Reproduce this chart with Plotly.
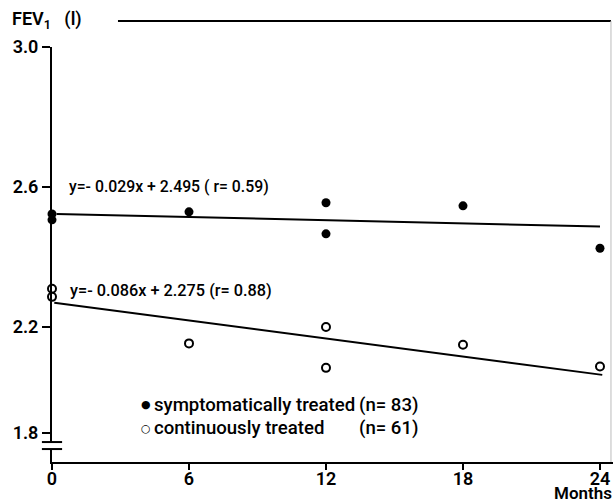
import plotly.graph_objects as go

# ---- data ----
sym_months = [0, 0, 6, 12, 12, 18, 24]
sym_fev = [2.523, 2.506, 2.529, 2.555, 2.466, 2.546, 2.425]

cont_months = [0, 0, 6, 12, 12, 18, 24]
cont_fev = [2.309, 2.286, 2.153, 2.200, 2.083, 2.149, 2.087]

sym_fit_x = [0.2, 24]
sym_fit_y = [2.523, 2.487]
cont_fit_x = [0.1, 24.1]
cont_fit_y = [2.269, 2.063]

x_ticks = [0, 6, 12, 18, 24]
y_tick_labels = ["1.8", "2.2", "2.6", "3.0"]
y_tick_values = [1.897, 2.2, 2.6, 3.0]  # 1.8 sits just above the axis break

sym_label = "symptomatically treated"
cont_label = "continuously treated"
sym_n = "(n= 83)"
cont_n = "(n= 61)"
sym_eq = "y=- 0.029x + 2.495 ( r= 0.59)"
cont_eq = "y=- 0.086x + 2.275 (r= 0.88)"

FONT = "Roboto, DejaVu Sans, sans-serif"
W = 500

fig = go.Figure()

fig.add_trace(go.Scatter(x=sym_fit_x, y=sym_fit_y, mode="lines",
                         line=dict(color="black", width=2), showlegend=False, hoverinfo="skip"))
fig.add_trace(go.Scatter(x=cont_fit_x, y=cont_fit_y, mode="lines",
                         line=dict(color="black", width=2), showlegend=False, hoverinfo="skip"))
fig.add_trace(go.Scatter(x=sym_months, y=sym_fev, mode="markers", name=sym_label,
                         marker=dict(symbol="circle", size=9, color="black"), showlegend=False, cliponaxis=False))
fig.add_trace(go.Scatter(x=cont_months, y=cont_fev, mode="markers", name=cont_label,
                         marker=dict(symbol="circle", size=8, color="white",
                                     line=dict(color="black", width=2)), showlegend=False, cliponaxis=False))

y_min = 1.814
y_max = 3.0
x_max = 24.57

fig.update_layout(
    width=614, height=501,
    margin=dict(l=52, r=1, t=47, b=39, autoexpand=False),
    paper_bgcolor="white", plot_bgcolor="white",
    font=dict(family=FONT, color="black", size=15, weight=W),
    xaxis=dict(range=[0, x_max], tickvals=x_ticks, ticktext=[str(v) for v in x_ticks],
               showgrid=False, zeroline=False, showline=True, linecolor="black", linewidth=2,
               ticks="outside", ticklen=6, tickwidth=1.5, tickcolor="black", automargin=False,
               ticklabelstandoff=-7,
               tickfont=dict(size=18, family=FONT, weight=600)),
    yaxis=dict(range=[y_min, y_max], tickvals=y_tick_values, ticktext=y_tick_labels,
               showgrid=False, zeroline=False, showline=True, linecolor="black", linewidth=2,
               ticks="outside", ticklen=8, tickwidth=1.5, tickcolor="black", automargin=False,
               tickfont=dict(size=18, family=FONT, weight=600)),
)

# axis break: gap in y axis with two short bars
fig.add_shape(type="rect", xref="paper", yref="y", x0=-0.02, x1=0.02, y0=1.851, y1=1.871,
              fillcolor="white", line=dict(width=0), layer="above")
for yb in (1.851, 1.871):
    fig.add_shape(type="line", xref="paper", yref="y", x0=-0.018, x1=0.018, y0=yb, y1=yb,
                  line=dict(color="black", width=2), layer="above")

# frame lines at top and right
fig.add_shape(type="line", xref="paper", yref="paper", x0=0.1176, x1=0.9964, y0=1.0627, y1=1.0627,
              line=dict(color="black", width=2))
fig.add_shape(type="line", xref="paper", yref="paper", x0=0.9964, x1=0.9964, y0=0, y1=1.0627,
              line=dict(color="#bbbbbb", width=1))

# y-axis title
fig.add_annotation(text="FEV<sub>1</sub>   (l)", xref="paper", yref="paper", x=-0.0749, y=1.065,
                   xanchor="left", yanchor="middle", showarrow=False, font=dict(size=18, family=FONT, weight=600))
# x-axis title
fig.add_annotation(text="Months", xref="paper", yref="paper", x=1.0018, y=-0.074,
                   xanchor="right", yanchor="middle", showarrow=False, font=dict(size=17, family=FONT, weight=600))

# regression equations
fig.add_annotation(text=sym_eq, x=0.66, y=2.6, xanchor="left", yanchor="middle",
                   showarrow=False, font=dict(size=15.8, family=FONT, weight=500))
fig.add_annotation(text=cont_eq, x=0.7, y=2.305, xanchor="left", yanchor="middle",
                   showarrow=False, font=dict(size=16.3, family=FONT, weight=500))

# legend
fig.add_annotation(text="●", x=4.1, y=1.977, xanchor="center", yanchor="middle",
                   showarrow=False, font=dict(size=11, family="DejaVu Sans"))
fig.add_annotation(text="○", x=4.1, y=1.911, xanchor="center", yanchor="middle",
                   showarrow=False, font=dict(size=11, family="DejaVu Sans", weight="bold"))
fig.add_annotation(text=sym_label, x=4.38, y=1.977, xanchor="left", yanchor="middle",
                   showarrow=False, font=dict(size=18.6, family=FONT, weight=W))
fig.add_annotation(text=cont_label, x=4.38, y=1.911, xanchor="left", yanchor="middle",
                   showarrow=False, font=dict(size=18.6, family=FONT, weight=W))
fig.add_annotation(text=sym_n, x=13.36, y=1.977, xanchor="left", yanchor="middle",
                   showarrow=False, font=dict(size=18.6, family=FONT, weight=W))
fig.add_annotation(text=cont_n, x=13.36, y=1.911, xanchor="left", yanchor="middle",
                   showarrow=False, font=dict(size=18.6, family=FONT, weight=W))

fig.write_html("out.html", config={"displayModeBar": False},
               post_script="document.body.style.margin='0';document.body.style.overflow='hidden';")
